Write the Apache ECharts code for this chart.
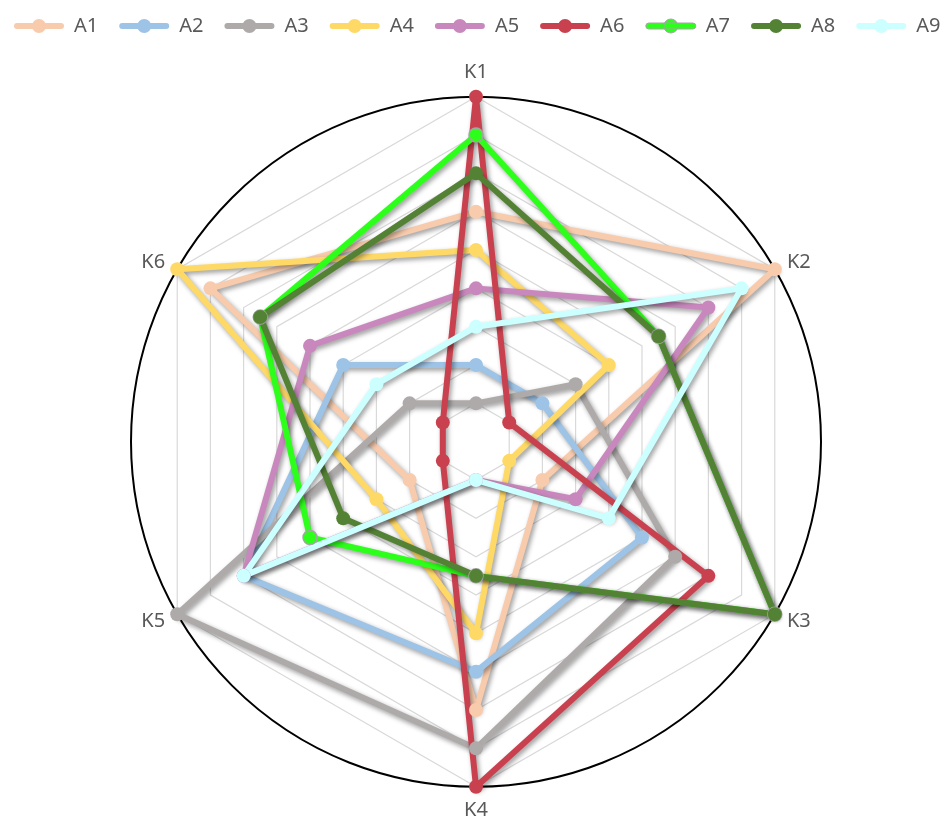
<!DOCTYPE html>
<html>
<head>
<meta charset="utf-8">
<script src="https://cdn.jsdelivr.net/npm/echarts@6/dist/echarts.min.js"></script>
<style>
  html, body { margin: 0; padding: 0; background: #fff; }
  #main { width: 947px; height: 821px; }
</style>
</head>
<body>
<div id="main"></div>
<script>
// categories (clockwise from the top)
var categories = ['K1', 'K2', 'K3', 'K4', 'K5', 'K6'];
var seriesNames = ['A1', 'A2', 'A3', 'A4', 'A5', 'A6', 'A7', 'A8', 'A9'];

// values per series, in K1..K6 order
var a1 = [6, 9, 2, 7, 2, 8];
var a2 = [2, 2, 5, 6, 7, 4];
var a3 = [1, 3, 6, 8, 9, 2];
var a4 = [5, 4, 1, 5, 3, 9];
var a5 = [4, 7, 3, 1, 7, 5];
var a6 = [9, 1, 7, 9, 1, 1];
var a7 = [8, 5.5, 9, 3.5, 5, 6.5];
var a8 = [7, 5.5, 9, 3.5, 4, 6.5];
var a9 = [3, 8, 4, 1, 7, 3];
var axisMax = 9;

var allValues = [a1, a2, a3, a4, a5, a6, a7, a8, a9];
var colors = ['#F8CBAD', '#9DC3E6', '#AEAAAA', '#FFD966', '#C988BD',
              '#C9414F', '#2CFF1A', '#548235', '#CCFFFF'];

// echarts lays indicators out counterclockwise, so flip the order
var order = [0, 5, 4, 3, 2, 1];

// legend icon: a rounded line with a dot in the middle
var lineDotIcon = 'path://M4,4 L48,4 A3,3 0 0 1 48,10 L4,10 A3,3 0 0 1 4,4 Z ' +
	'M26,0 A7,7 0 1 1 26,14 A7,7 0 1 1 26,0 Z';

var myChart = echarts.init(document.getElementById('main'));

var series = seriesNames.map(function (name, i) {
	return {
		name: name,
		type: 'radar',
		radarIndex: 0,
		symbol: 'circle',
		symbolSize: 14,
		itemStyle: {
			color: colors[i],
			borderColor: name === 'A7' ? '#A5A5A5' : colors[i],
			borderWidth: name === 'A7' ? 1.5 : 0
		},
		lineStyle: {
			color: colors[i],
			width: 6,
			shadowColor: 'rgba(0,0,0,0.4)',
			shadowBlur: 5,
			shadowOffsetX: 2,
			shadowOffsetY: 2.5
		},
		data: [{
			name: name,
			value: order.map(function (k) { return allValues[i][k]; })
		}]
	};
});

myChart.setOption({
	animation: false,
	color: colors,
	legend: {
		top: 11,
		left: 9,
		itemWidth: 52,
		itemHeight: 14,
		itemGap: 21,
		textStyle: { fontSize: 20, color: '#595959', fontFamily: 'Noto Sans', padding: [0, 0, 0, 4] },
		data: seriesNames.map(function (n) {
			return { name: n, icon: lineDotIcon, itemStyle: { borderWidth: n === 'A7' ? 1 : 0 } };
		})
	},
	radar: [{
		center: [476, 441.7],
		radius: 345,
		startAngle: 90,
		splitNumber: axisMax,
		shape: 'polygon',
		indicator: order.map(function (k) { return { name: categories[k], min: 0, max: axisMax }; }),
		axisName: { color: '#595959', fontSize: 20, fontFamily: 'Noto Sans' },
		nameGap: 14,
		axisLine: { show: false },
		splitLine: { lineStyle: { color: '#D9D9D9', width: 1.2 } },
		splitArea: { show: false }
	}, {
		// outer black circle
		center: [476, 441.7],
		radius: 345,
		startAngle: 90,
		splitNumber: 1,
		shape: 'circle',
		indicator: order.map(function (k) { return { name: '', min: 0, max: axisMax }; }),
		axisName: { show: false },
		axisLine: { show: false },
		splitLine: { lineStyle: { color: '#000', width: 2 } },
		splitArea: { show: false }
	}],
	series: series
});
</script>
</body>
</html>
